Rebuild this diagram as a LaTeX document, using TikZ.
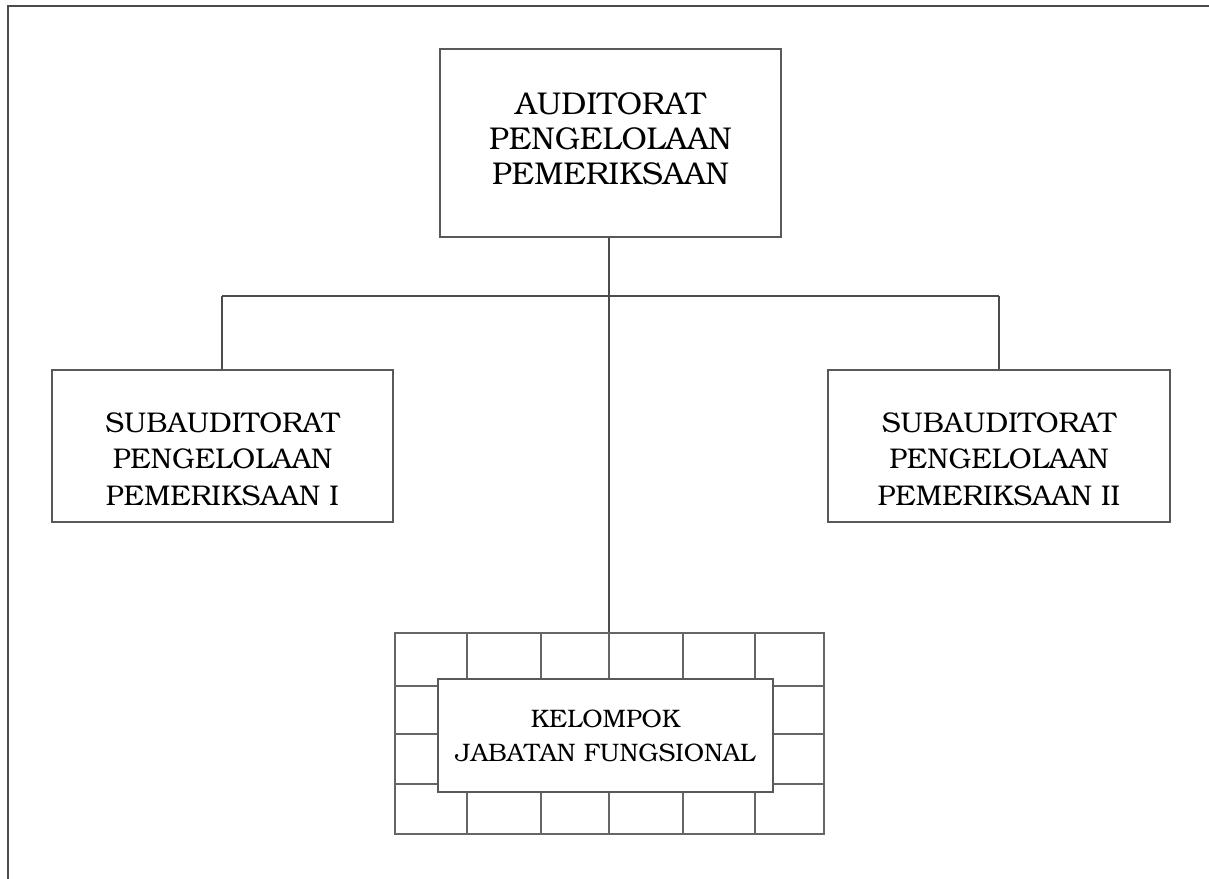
\documentclass[tikz,border=0pt]{standalone}
\usepackage[T1]{fontenc}
\usepackage{bookman}
\begin{document}
\begin{tikzpicture}[x=1pt,y=-1pt,
  boxline/.style={draw=black!65,line width=1.2pt},
  orgbox/.style={boxline,rectangle,inner sep=0pt},
  toptext/.style={align=center,inner sep=0pt,font=\fontsize{31.5}{35}\selectfont},
  subtext/.style={align=center,inner sep=0pt,font=\fontsize{28.5}{36.7}\selectfont},
  wire/.style={draw=black!70,line width=1.2pt},
  gridline/.style={draw=black!60,line width=1.2pt}]
\useasboundingbox (0,0) rectangle (1209,878);
% outer frame
\draw[draw=black!70,line width=2pt] (8,900) -- (8,6) -- (1230,6);
% boxes
\node[orgbox,minimum width=341pt,minimum height=188pt] (top) at (610.5,143) {};
\node[toptext] (toplbl) at (610.5,138.5) {AUDITORAT\\PENGELOLAAN\\PEMERIKSAAN};
\node[orgbox,minimum width=341pt,minimum height=152pt] (left) at (222.5,446) {};
\node[subtext] (leftlbl) at (222.5,459) {SUBAUDITORAT\\PENGELOLAAN\\PEMERIKSAAN I};
\node[orgbox,minimum width=342pt,minimum height=152pt] (right) at (999,446) {};
\node[subtext] (rightlbl) at (999,459) {SUBAUDITORAT\\PENGELOLAAN\\PEMERIKSAAN II};
% grid
\node[gridline,rectangle,inner sep=0pt,minimum width=429pt,minimum height=201pt] (grid) at (609.5,733.5) {};
\foreach \gx in {467,541,683,755}
  \draw[gridline] (\gx,633) -- (\gx,834);
\foreach \gy in {686,734,784}
  \draw[gridline] (395,\gy) -- (824,\gy);
\coordinate (j) at (609,296);
\draw[gridline] (j |- grid.north) -- (j |- grid.south);
\node[boxline,fill=white,rectangle,align=center,inner sep=0pt,
  minimum width=335pt,minimum height=113pt,
  font=\fontsize{25.3}{34}\selectfont] (kjf) at (605.5,735.5)
  {KELOMPOK\\JABATAN FUNGSIONAL};
% connectors
\coordinate (jl) at (222,296);
\coordinate (jr) at (999,296);
\draw[wire] (j |- top.south) -- (j) -- (j |- grid.north);
\draw[wire] (jl) -- (jr);
\draw[wire] (jl) -- (left.north -| jl);
\draw[wire] (jr) -- (right.north -| jr);
\end{tikzpicture}
\end{document}
